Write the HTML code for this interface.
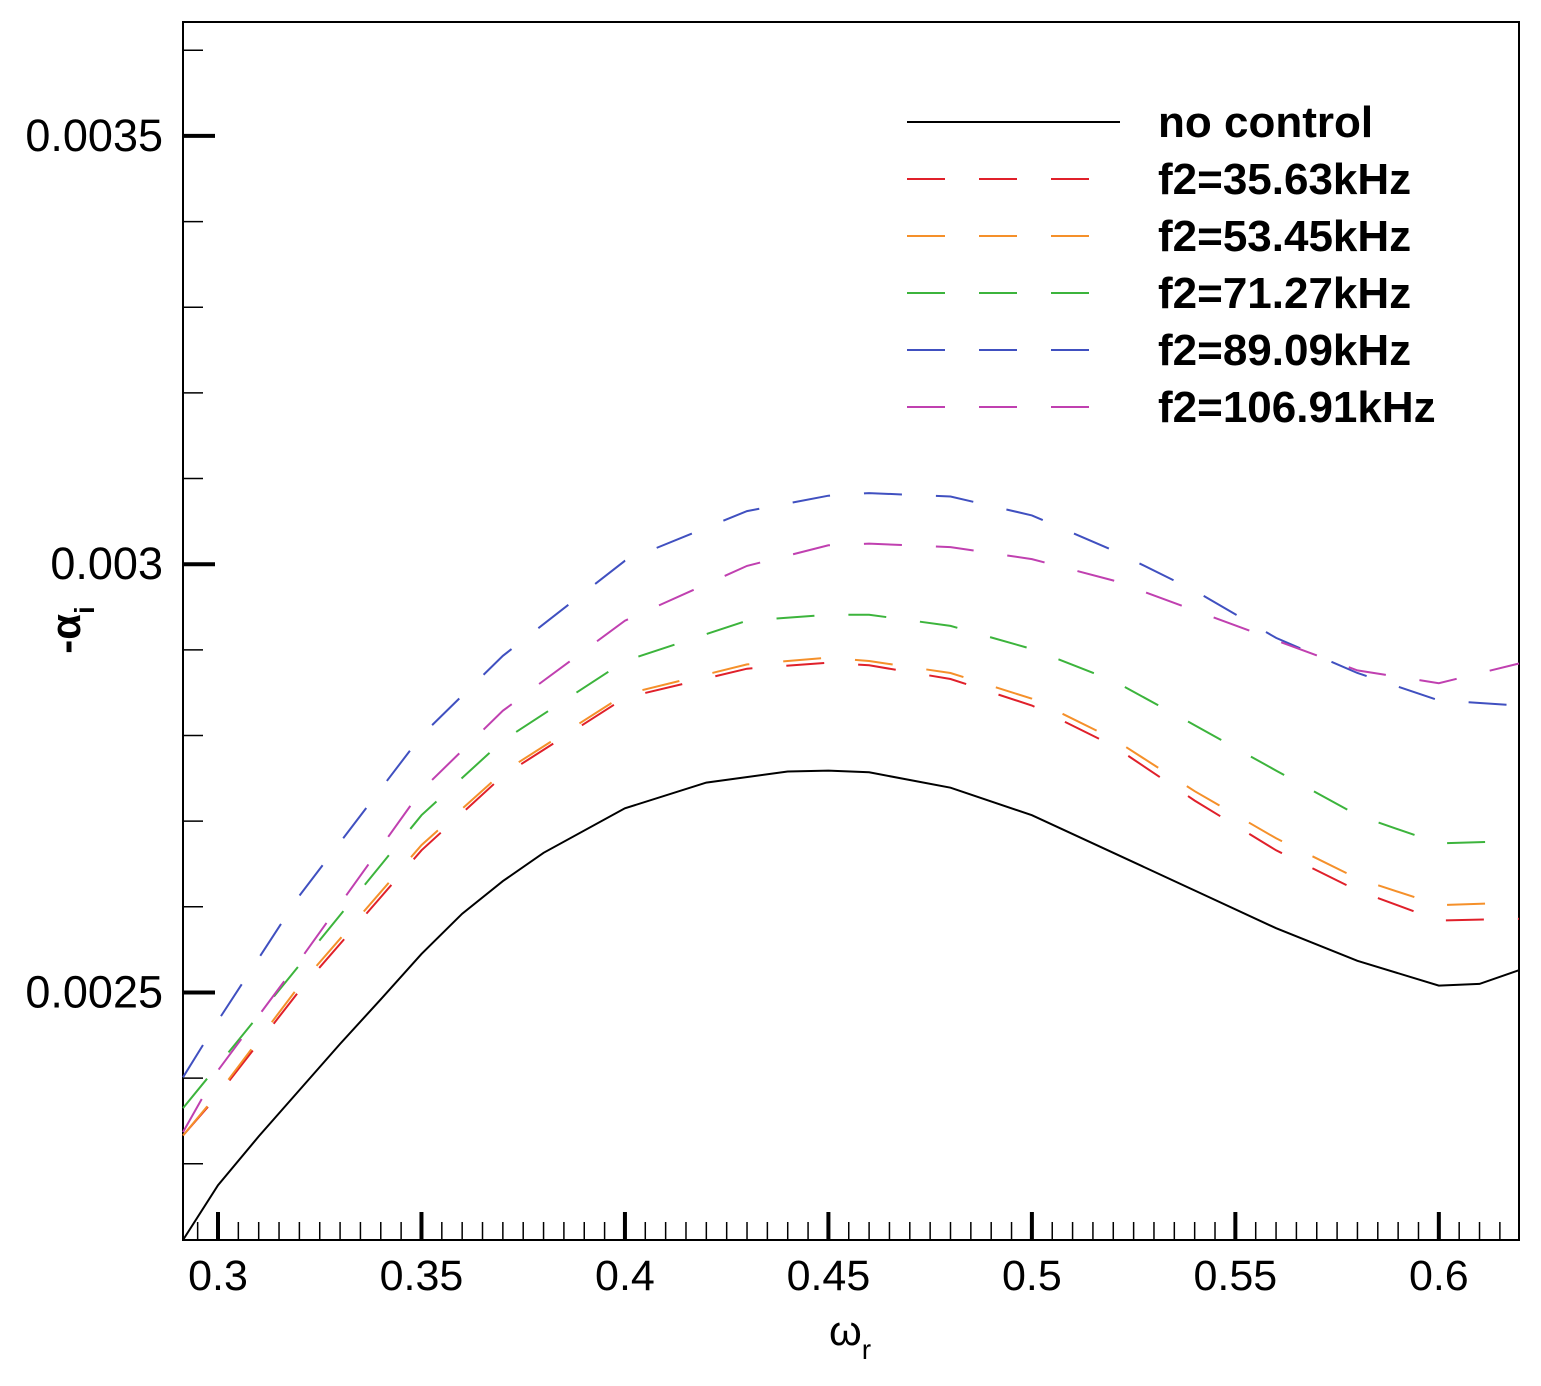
<!DOCTYPE html>
<html><head><meta charset="utf-8"><style>
body{margin:0;background:#fff;}
svg{display:block;font-family:"Liberation Sans",Arial,sans-serif;}
</style></head><body>
<svg id="chart" width="1541" height="1386" viewBox="0 0 1541 1386">
<rect x="183" y="22" width="1336" height="1218" fill="none" stroke="#000" stroke-width="2"/>
<g id="ticks"></g>
<g id="series"></g>
<g id="legend"></g>
<text x="850" y="1345" font-size="42" text-anchor="middle">ω<tspan font-size="28" dy="14">r</tspan></text>
<text transform="translate(80,630) rotate(-90)" font-size="42" font-weight="bold" text-anchor="middle">-α<tspan font-size="28" dy="14">i</tspan></text>
</svg>
<script>
const xTicks=[0.3,0.35,0.4,0.45,0.5,0.55,0.6];
const xTickLabels=["0.3","0.35","0.4","0.45","0.5","0.55","0.6"];
const yTicks=[0.0025,0.003,0.0035];
const yTickLabels=["0.0025","0.003","0.0035"];
const blackX=[0.2914,0.30,0.31,0.32,0.33,0.34,0.35,0.36,0.37,0.38,0.40,0.42,0.44,0.45,0.46,0.48,0.50,0.52,0.54,0.56,0.58,0.60,0.61,0.6197];
const blackY=[2.211,2.275,2.332,2.386,2.440,2.492,2.545,2.592,2.630,2.663,2.715,2.745,2.758,2.759,2.757,2.739,2.707,2.663,2.619,2.575,2.537,2.508,2.510,2.526];
const ctrlX=[0.2914,0.30,0.32,0.35,0.37,0.40,0.43,0.45,0.46,0.48,0.50,0.52,0.54,0.56,0.58,0.60,0.6197];
const redY=[2.333,2.380,2.502,2.666,2.753,2.844,2.878,2.885,2.882,2.866,2.835,2.788,2.724,2.666,2.619,2.584,2.586];
const orangeY=[2.333,2.382,2.508,2.672,2.757,2.848,2.883,2.891,2.887,2.873,2.843,2.796,2.735,2.680,2.633,2.602,2.605];
const greenY=[2.365,2.415,2.532,2.707,2.794,2.887,2.934,2.941,2.941,2.928,2.901,2.864,2.812,2.759,2.707,2.674,2.677];
const blueY=[2.401,2.467,2.613,2.800,2.893,3.004,3.062,3.080,3.083,3.079,3.057,3.016,2.969,2.914,2.873,2.841,2.835];
const magentaY=[2.337,2.409,2.537,2.736,2.829,2.934,2.998,3.022,3.024,3.020,3.006,2.981,2.946,2.911,2.876,2.861,2.884];
const seriesNames=["no control","f2=35.63kHz","f2=53.45kHz","f2=71.27kHz","f2=89.09kHz","f2=106.91kHz"];
const seriesColors=["#000","#e0202a","#f5902a","#3cb43c","#4050c0","#c040b0"];

const NS="http://www.w3.org/2000/svg";
const X0=183,X1=1519,Y0=1240,Y1=22;
const xMin=0.2914,xMax=0.6197,yMin=0.002211,yMax=0.003633;
const sx=v=>X0+(v-xMin)/(xMax-xMin)*(X1-X0);
const sy=v=>Y0-(v-yMin)/(yMax-yMin)*(Y0-Y1);
function mk(tag,attrs,parent){const e=document.createElementNS(NS,tag);for(const k in attrs)e.setAttribute(k,attrs[k]);parent.appendChild(e);return e;}
const tg=document.getElementById('ticks');
for(let i=0;i<=70;i++){const v=0.29+i*0.005;if(v<xMin||v>xMax)continue;const x=sx(v);
 const major=Math.abs((v*100)%5)<1e-6||Math.abs((v*100)%5-5)<1e-6;
 const t=mk('line',{x1:x,x2:x,y1:Y0,y2:Y0-(major?28:18),stroke:'#000','stroke-width':major?4:1.5},tg);
 
 }
for(let i=0;i<=20;i++){const v=0.0022+i*0.0001;if(v<yMin||v>yMax)continue;const y=sy(v);
 const t=mk('line',{x1:X0,x2:X0+20,y1:y,y2:y,stroke:'#000','stroke-width':1.5},tg);
 
 }
xTicks.forEach((v,i)=>{const t=mk('text',{x:sx(v),y:1290,'font-size':43,'text-anchor':'middle'},tg);t.textContent=xTickLabels[i];
 
 });
yTicks.forEach((v,i)=>{const y=sy(v);
 const l=mk('line',{x1:X0,x2:X0+32,y1:y,y2:y,stroke:'#000','stroke-width':4},tg);
 
 
 const t=mk('text',{x:163,y:y+15,'font-size':45,'text-anchor':'end'},tg);t.textContent=yTickLabels[i];
 
 });
const sg=document.getElementById('series');
const allY=[blackY,redY,orangeY,greenY,blueY,magentaY];
allY.forEach((ys,k)=>{const xs=k===0?blackX:ctrlX;
 const d=ys.map((v,i)=>(i?'L':'M')+sx(xs[i]).toFixed(1)+','+sy(v/1000).toFixed(1)).join(' ');
 const p=mk('path',{d:d,fill:'none',stroke:seriesColors[k],'stroke-width':2},sg);
 if(k>0)p.setAttribute('stroke-dasharray','38 34');
 
 });
const lg=document.getElementById('legend');
seriesNames.forEach((n,k)=>{const y=122+k*57;
 const l=mk('line',{x1:907,x2:1120,y1:y,y2:y,stroke:seriesColors[k],'stroke-width':2},lg);
 if(k>0)l.setAttribute('stroke-dasharray','38 34');
 
 
 const t=mk('text',{x:1158,y:y+15,'font-size':44,'font-weight':'bold'},lg);t.textContent=n;
 
 });
</script>
</body></html>
